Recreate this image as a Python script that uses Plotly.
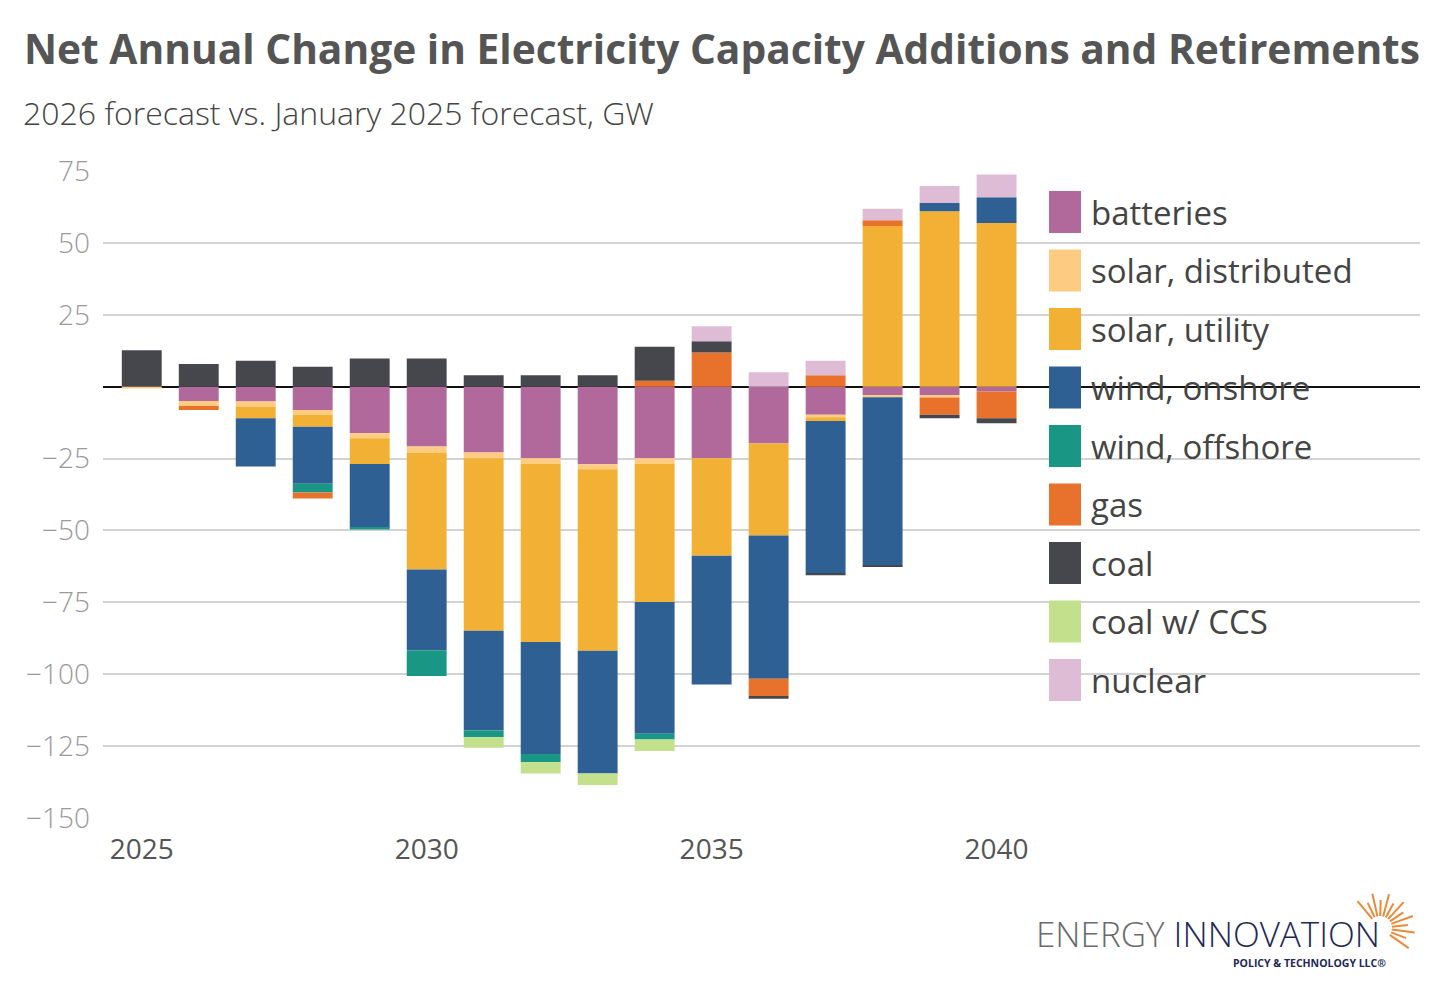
import numpy as np
import plotly.graph_objects as go

years = list(range(2025, 2041))

# net change by technology, GW
batteries = [0, -5.0, -5.2, -8.1, -16.2, -20.8, -22.9, -24.9, -27.0, -24.9, -24.9, -19.8, -9.8, -2.9, -2.9, -1.7]
solar_distributed = [-0.6, -1.7, -1.7, -1.7, -1.7, -2.1, -2.0, -2.0, -1.7, -2.0, 0, 0, -0.8, -0.8, -0.9, 0]
solar_utility = [0, 0, -4.1, -4.1, -9.0, -40.7, -60.0, -61.9, -63.1, -48.0, -33.9, -32.0, -1.3, 55.9, 61.0, 56.9]
wind_onshore = [0, 0, -16.8, -19.9, -22.2, -28.1, -34.7, -38.9, -42.7, -45.8, -44.8, -49.8, -52.9, -58.4, 2.9, 9.0]
wind_offshore = [0, 0, 0, -3.0, -0.6, -8.9, -2.3, -2.9, 0, -2.0, 0, 0, 0, 0, 0, 0]
gas = [0, -1.4, 0, -2.1, 0, 0, 0, 0, 0, 2.1, 11.9, -6.0, 4.0, 2.0, -6.0, -9.3]
coal = [12.7, 7.9, 9.0, 6.9, 9.8, 9.8, 4.0, 4.0, 4.0, 11.8, 3.9, -0.9, -0.8, -0.6, -1.2, -1.7]
coal_ccs = [0, 0, 0, 0, 0, 0, -3.7, -3.9, -4.0, -4.0, 0, 0, 0, 0, 0, 0]
nuclear = [0, 0, 0, 0, 0, 0, 0, 0, 0, 0, 5.2, 5.0, 5.0, 4.0, 5.9, 7.9]

series = [
    ("batteries", batteries, "#B0699A"),
    ("solar, distributed", solar_distributed, "#FDCB82"),
    ("solar, utility", solar_utility, "#F2B134"),
    ("wind, onshore", wind_onshore, "#2F6094"),
    ("wind, offshore", wind_offshore, "#1A9784"),
    ("gas", gas, "#E8722B"),
    ("coal", coal, "#46474C"),
    ("coal w/ CCS", coal_ccs, "#C3E08C"),
    ("nuclear", nuclear, "#DEBCD5"),
]

y_ticks = [75, 50, 25, -25, -50, -75, -100, -125, -150]
x_ticks = [2025, 2030, 2035, 2040]

FONT = "Open Sans"
# the page puts the figure 8px in from the top-left corner
OFF = 8
W, H = 1456 - OFF, 1006 - OFF
L, T = 103 - OFF, 171 - OFF
R, B = W - (1420 - OFF), H - (818 - OFF)

def px_x(px):
    return (px - OFF - L) / (W - L - R)

def px_y(py):
    return (H - B - (py - OFF)) / (H - T - B)

fig = go.Figure()
for name, vals, col in series:
    fig.add_trace(go.Bar(x=years, y=vals, name=name, marker_color=col,
                         marker_line_width=0, width=0.7, showlegend=False))

fig.update_layout(
    width=W, height=H, barmode="relative",
    margin=dict(l=L, r=R, t=T, b=B),
    paper_bgcolor="white", plot_bgcolor="white",
    font=dict(family=FONT),
)
fig.update_xaxes(range=[2024.32, 2047.43], tickvals=x_ticks, showgrid=False,
                 showline=False, zeroline=False, ticks="",
                 tickfont=dict(size=28, color="#555555"), ticklabelstandoff=12)
fig.update_yaxes(range=[-150, 75], tickvals=y_ticks, showgrid=True,
                 gridcolor="#D3D3D3", gridwidth=2, zeroline=True,
                 zerolinecolor="#111111", zerolinewidth=2, showline=False,
                 tickfont=dict(size=28, color="#9A9A9A", weight=300),
                 ticklabelstandoff=12)

# title + subtitle
fig.add_annotation(text="<b>Net Annual Change in Electricity Capacity Additions and Retirements</b>",
                   xref="paper", yref="paper", x=px_x(22), y=px_y(48),
                   xanchor="left", yanchor="middle", showarrow=False,
                   font=dict(size=40.7, color="#555555", family=FONT))
fig.add_annotation(text="2026 forecast vs. January 2025 forecast, GW",
                   xref="paper", yref="paper", x=px_x(21), y=px_y(113),
                   xanchor="left", yanchor="middle", showarrow=False,
                   font=dict(size=32, color="#444444", family=FONT, weight=300))

# legend drawn by hand so the swatches can be large
for i, (name, vals, col) in enumerate(series):
    cy = 212 + 58.5 * i
    fig.add_shape(type="rect", xref="paper", yref="paper",
                  x0=px_x(1049), x1=px_x(1081), y0=px_y(cy - 21), y1=px_y(cy + 21),
                  fillcolor=col, line_width=0, layer="above")
    fig.add_annotation(text=name, xref="paper", yref="paper",
                       x=px_x(1089), y=px_y(cy), xanchor="left", yanchor="middle",
                       showarrow=False, font=dict(size=33, color="#444444", family=FONT))

# logo
fig.add_annotation(text="ENERGY <span style='color:#1E2856'>INNOVATION</span>",
                   xref="paper", yref="paper", x=px_x(1034), y=px_y(933),
                   xanchor="left", yanchor="middle", showarrow=False,
                   font=dict(size=35, color="#6A6A6A", family=FONT, weight=300))
fig.add_annotation(text="<b>POLICY &amp; TECHNOLOGY LLC®</b>",
                   xref="paper", yref="paper", x=px_x(1388), y=px_y(963),
                   xanchor="right", yanchor="middle", showarrow=False,
                   font=dict(size=10.5, color="#1E2856", family=FONT))
cx, cy = 1380, 928
for k, ang in enumerate(np.linspace(130, -35, 13)):
    a = np.radians(ang)
    r0, r1 = 12, (35 if k % 2 == 0 else 28)
    fig.add_shape(type="line", xref="paper", yref="paper",
                  x0=px_x(cx + r0 * np.cos(a)), y0=px_y(cy - r0 * np.sin(a)),
                  x1=px_x(cx + r1 * np.cos(a)), y1=px_y(cy - r1 * np.sin(a)),
                  line=dict(color="#E98A3A", width=2))

fig.write_html("out.html")
